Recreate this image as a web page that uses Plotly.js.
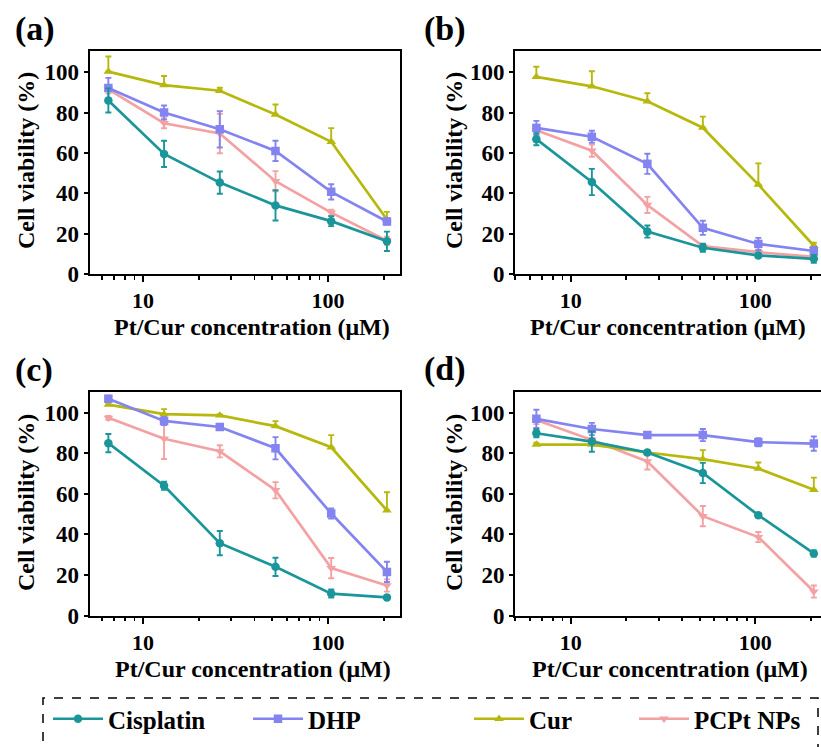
<!DOCTYPE html>
<html>
<head>
<meta charset="utf-8">
<script src="https://cdn.plot.ly/plotly-3.0.1.min.js"></script>
<style>html,body{margin:0;padding:0;background:#fff;}#chart{width:821px;height:747px;}</style>
</head>
<body>
<div id="chart"></div>
<script>
// ---- data ----
const conc = [6.5, 13, 26, 52, 104, 208];
const seriesNames = ['Cisplatin', 'DHP', 'Cur', 'PCPt NPs'];
const panelLabels = ['(a)', '(b)', '(c)', '(d)'];
const xTickVals = [10, 100];
const xTickText = ['10', '100'];
const xMinorVals = [5, 6, 7, 8, 9, 20, 30, 40, 50, 60, 70, 80, 90, 200, 300];
const yTickVals = [0, 20, 40, 60, 80, 100];

// panel (a)
const cisA = [86, 59.5, 45.3, 34, 26.2, 16.2];
const cisAErr = [6, 6.5, 5.5, 7.5, 2.5, 4.8];
const dhpA = [92.2, 80, 71.7, 61, 40.7, 26];
const dhpAErr = [5, 3.5, 9, 5, 3.8, 1.5];
const curA = [100.3, 93.6, 90.8, 79, 65.5, 27];
const curAErr = [7.5, 4.5, 1.5, 5, 6.8, 3.8];
const pcpA = [91.5, 74.7, 69.6, 46, 30.4, 16.5];
const pcpAErr = [2, 2.5, 9.8, 5, 1.5, 2];

// panel (b)
const cisB = [66.8, 45.6, 21, 13, 9.2, 7.5];
const cisBErr = [3, 6.5, 3, 2, 1, 2];
const dhpB = [72.4, 68, 54.6, 22.9, 14.9, 11.4];
const dhpBErr = [3.5, 3, 5, 3.5, 3, 2];
const curB = [97.7, 93, 85.6, 72.5, 44.3, 14];
const curBErr = [5, 7.5, 4, 5.5, 10.5, 1.5];
const pcpB = [71.2, 61.1, 34.2, 13.8, 10.8, 8.5];
const pcpBErr = [2, 3, 4, 1, 1, 1];

// panel (c)
const cisC = [85, 64, 35.7, 24, 10.8, 8.9];
const cisCErr = [4.5, 2, 6, 4.5, 2, 1];
const dhpC = [106.9, 96, 93, 82.5, 50.3, 21.5];
const dhpCErr = [1.5, 2, 1.5, 5.5, 2.5, 5];
const curC = [104, 99.3, 98.7, 93.4, 83, 51.8];
const curCErr = [1, 2.5, 0.5, 2.5, 6, 9];
const pcpC = [97.5, 87.2, 81, 61.8, 23.4, 14.8];
const pcpCErr = [1, 10, 3, 4, 5, 3];

// panel (d)
const cisD = [89.9, 85.8, 80.4, 70.3, 49.5, 30.6];
const cisDErr = [2, 5, 1, 5, 1, 1.5];
const dhpD = [97, 92, 89, 89, 85.5, 84.8];
const dhpDErr = [4.5, 3, 1.5, 3, 2, 3.5];
const curD = [84.3, 84.3, 80.4, 77.1, 72.5, 62];
const curDErr = [1, 1, 1, 4.5, 3, 6];
const pcpD = [96.4, 86.6, 76, 49, 38.7, 11.8];
const pcpDErr = [2, 1, 4, 5, 2.5, 3];

// ---- styling ----
const colors = ['#1a969b', '#8484f0', '#b7b80e', '#f4a1a3'];
const symbols = ['circle', 'square', 'triangle-up', 'triangle-down'];
const upperOnly = [false, false, true, false];
const FONT = '"Liberation Serif", "Times New Roman", Times, serif';

const panels = [
  {vals: [cisA, dhpA, curA, pcpA], errs: [cisAErr, dhpAErr, curAErr, pcpAErr]},
  {vals: [cisB, dhpB, curB, pcpB], errs: [cisBErr, dhpBErr, curBErr, pcpBErr]},
  {vals: [cisC, dhpC, curC, pcpC], errs: [cisCErr, dhpCErr, curCErr, pcpCErr]},
  {vals: [cisD, dhpD, curD, pcpD], errs: [cisDErr, dhpDErr, curDErr, pcpDErr]}
];

const W = 821, H = 747;
const px = v => v / W;
const py = v => 1 - v / H;

const traces = [];
const drawOrder = [3, 2, 1, 0];
panels.forEach((p, pi) => {
  const ax = pi === 0 ? '' : String(pi + 1);
  drawOrder.forEach(si => {
    const err = p.errs[si];
    const eb = {type: 'data', array: err, color: colors[si], thickness: 1.9, width: 3, visible: true};
    if (upperOnly[si]) { eb.symmetric = false; eb.arrayminus = err.map(() => 0); }
    traces.push({
      type: 'scatter', mode: 'lines+markers',
      x: conc, y: p.vals[si],
      xaxis: 'x' + ax, yaxis: 'y' + ax,
      name: seriesNames[si],
      line: {color: colors[si], width: 2.7},
      marker: {color: colors[si], symbol: symbols[si], size: 8.5},
      error_y: eb,
      showlegend: pi === 0,
      legend: si === 0 ? 'legend' : 'legend' + (si + 1)
    });
  });
});

const domX = [[px(89.5), px(399.5)], [px(515), 1], [px(89.5), px(399.5)], [px(515), 1]];
const domY = [[py(274), py(51)], [py(274), py(51)], [py(615.5), py(391.5)], [py(615.5), py(391.5)]];
const xRanges = [[0.711, 2.386], [0.697, 2.357], [0.711, 2.386], [0.697, 2.357]];

const layout = {
  width: W, height: H,
  margin: {l: 0, r: 0, t: 0, b: 0},
  paper_bgcolor: '#fff', plot_bgcolor: '#fff',
  font: {family: FONT, color: '#000'},
  annotations: [], shapes: []
};

panels.forEach((p, pi) => {
  const ax = pi === 0 ? '' : String(pi + 1);
  const full = pi === 0 || pi === 2;
  layout['xaxis' + ax] = {
    type: 'log', domain: domX[pi], range: xRanges[pi],
    anchor: 'y' + ax,
    tickmode: 'array', tickvals: xTickVals, ticktext: xTickText,
    ticks: 'outside', ticklen: 6, tickwidth: 2, tickcolor: '#000',
    minor: {tickmode: 'array', tickvals: xMinorVals, ticks: 'outside', ticklen: 3.5, tickwidth: 1.8, tickcolor: '#000', showgrid: false},
    showline: true, linewidth: 2, linecolor: '#000', mirror: true,
    showgrid: false, zeroline: false,
    tickfont: {family: FONT, size: 22, color: '#000', weight: 'bold'}
  };
  layout['yaxis' + ax] = {
    domain: domY[pi], range: [0, 110.5], anchor: 'x' + ax,
    tickmode: 'array', tickvals: yTickVals,
    ticks: 'outside', ticklen: 4, tickwidth: 2, tickcolor: '#000',
    showline: true, linewidth: 2, linecolor: '#000', mirror: full,
    showgrid: false, zeroline: false,
    tickfont: {family: FONT, size: 23, color: '#000', weight: 'bold'}
  };
});

// titles and panel labels
const labelPos = [[35, 29], [445, 29], [34, 370], [445, 369]];
const yTitlePos = [[26, 161], [454, 161], [26, 503], [454, 503]];
const xTitlePos = [[252, 327], [668, 327], [253, 669], [670, 669]];
panels.forEach((p, pi) => {
  layout.annotations.push({text: panelLabels[pi], xref: 'paper', yref: 'paper',
    x: px(labelPos[pi][0]), y: py(labelPos[pi][1]), xanchor: 'center', yanchor: 'middle',
    showarrow: false, font: {family: FONT, size: 34, color: '#000', weight: 'bold'}});
  layout.annotations.push({text: 'Cell viability (%)', xref: 'paper', yref: 'paper', textangle: -90,
    x: px(yTitlePos[pi][0]), y: py(yTitlePos[pi][1]), xanchor: 'center', yanchor: 'middle',
    showarrow: false, font: {family: FONT, size: 24, color: '#000', weight: 'bold'}});
  layout.annotations.push({text: 'Pt/Cur concentration (μM)', xref: 'paper', yref: 'paper',
    x: px(xTitlePos[pi][0]), y: py(xTitlePos[pi][1]), xanchor: 'center', yanchor: 'middle',
    showarrow: false, font: {family: FONT, size: 24, color: '#000', weight: 'bold'}});
});

// legend frame (dashed)
layout.shapes.push({type: 'rect', xref: 'paper', yref: 'paper',
  x0: px(43), x1: px(818), y0: py(770), y1: py(698),
  line: {color: '#000', width: 1.5, dash: 'dash'}, fillcolor: 'rgba(0,0,0,0)'});

const legendX = [48, 248, 469, 634];
['legend', 'legend2', 'legend3', 'legend4'].forEach((lg, i) => {
  layout[lg] = {
    x: px(legendX[i]), y: py(719), xanchor: 'left', yanchor: 'middle',
    orientation: 'h', bgcolor: 'rgba(0,0,0,0)', borderwidth: 0,
    itemwidth: 50, tracegroupgap: 0,
    font: {family: FONT, size: 25, color: '#000', weight: 'bold'}
  };
});

Plotly.newPlot('chart', traces, layout, {staticPlot: true, displayModeBar: false});
</script>
</body>
</html>
